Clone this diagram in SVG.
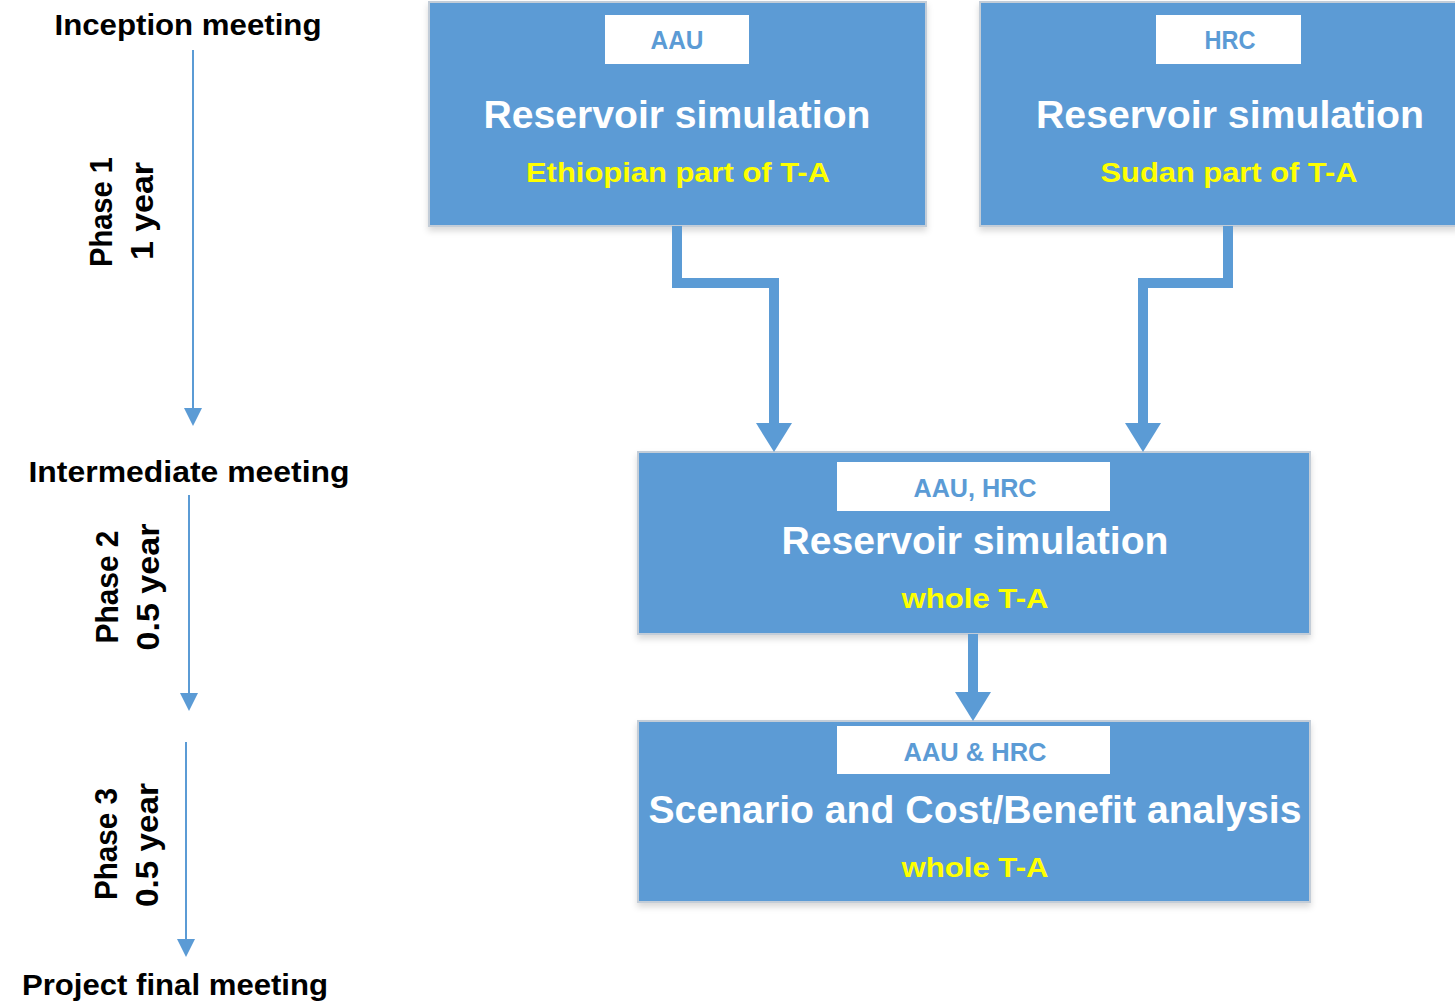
<svg xmlns="http://www.w3.org/2000/svg" width="1455" height="1002" viewBox="0 0 1455 1002">
<style>
text{font-family:"Liberation Sans",Arial,sans-serif;font-weight:bold;text-anchor:middle}
.box{fill:#5B9BD5;stroke:#C3CDD8;stroke-width:2}
.lab{fill:#FFFFFF}
.labt{fill:#5B9BD5;font-size:25px}
.main{fill:#FFFFFF;font-size:38px}
.sub{fill:#FFFF00;font-size:28px}
.tl{fill:#000000;font-size:29px}
.rot{fill:#000000;font-size:31px}
.thick{fill:none;stroke:#5B9BD5;stroke-width:10;marker-end:url(#bigHead)}
.thin{fill:none;stroke:#5B9BD5;stroke-width:2;marker-end:url(#smallHead)}
</style>
<defs>
<marker id="bigHead" markerUnits="userSpaceOnUse" markerWidth="30" markerHeight="36" viewBox="0 0 30 36" refX="0" refY="18" orient="auto"><path d="M0 0 L29 18 L0 36 Z" fill="#5B9BD5"/></marker>
<marker id="smallHead" markerUnits="userSpaceOnUse" markerWidth="19" markerHeight="18" viewBox="0 0 19 18" refX="0" refY="9" orient="auto"><path d="M0 0 L18 9 L0 18 Z" fill="#5B9BD5"/></marker>
<filter id="sh" x="-5%" y="-5%" width="110%" height="115%"><feDropShadow dx="0" dy="4" stdDeviation="3" flood-color="#000" flood-opacity="0.15"/></filter>
</defs>
<rect width="1455" height="1002" fill="#FFFFFF"/>

<g id="timeline">
<text class="tl" x="188" y="35" textLength="267" lengthAdjust="spacingAndGlyphs">Inception meeting</text>
<text class="tl" x="189" y="482" textLength="321" lengthAdjust="spacingAndGlyphs">Intermediate meeting</text>
<text class="tl" x="175" y="995" textLength="306" lengthAdjust="spacingAndGlyphs">Project final meeting</text>
<g transform="translate(112,212) rotate(-90)"><text class="rot" x="0" y="0" textLength="110" lengthAdjust="spacingAndGlyphs">Phase 1</text></g>
<g transform="translate(153,211) rotate(-90)"><text class="rot" x="0" y="0" textLength="98" lengthAdjust="spacingAndGlyphs">1  year</text></g>
<g transform="translate(118,587) rotate(-90)"><text class="rot" x="0" y="0" textLength="113" lengthAdjust="spacingAndGlyphs">Phase 2</text></g>
<g transform="translate(159,587) rotate(-90)"><text class="rot" x="0" y="0" textLength="127" lengthAdjust="spacingAndGlyphs">0.5  year</text></g>
<g transform="translate(117,844) rotate(-90)"><text class="rot" x="0" y="0" textLength="112" lengthAdjust="spacingAndGlyphs">Phase 3</text></g>
<g transform="translate(158,845) rotate(-90)"><text class="rot" x="0" y="0" textLength="124" lengthAdjust="spacingAndGlyphs">0.5  year</text></g>
</g>

<g id="box-aau">
<rect class="box" x="429" y="2" width="497" height="224" filter="url(#sh)"/>
<rect class="lab" x="605" y="15" width="144" height="49"/>
<text class="labt" x="677" y="49" textLength="53" lengthAdjust="spacingAndGlyphs">AAU</text>
<text class="main" x="677" y="128" textLength="387" lengthAdjust="spacingAndGlyphs">Reservoir simulation</text>
<text class="sub" x="678" y="182" textLength="304" lengthAdjust="spacingAndGlyphs">Ethiopian part of T-A</text>
</g>

<g id="box-hrc">
<rect class="box" x="980" y="2" width="478" height="224" filter="url(#sh)"/>
<rect class="lab" x="1156" y="15" width="145" height="49"/>
<text class="labt" x="1230" y="49" textLength="51" lengthAdjust="spacingAndGlyphs">HRC</text>
<text class="main" x="1230" y="128" textLength="388" lengthAdjust="spacingAndGlyphs">Reservoir simulation</text>
<text class="sub" x="1229" y="182" textLength="257" lengthAdjust="spacingAndGlyphs">Sudan part of T-A</text>
</g>

<g id="box-whole">
<rect class="box" x="638" y="452" width="672" height="182" filter="url(#sh)"/>
<rect class="lab" x="837" y="462" width="273" height="49"/>
<text class="labt" x="975" y="497" textLength="123" lengthAdjust="spacingAndGlyphs">AAU, HRC</text>
<text class="main" x="975" y="554" textLength="387" lengthAdjust="spacingAndGlyphs">Reservoir simulation</text>
<text class="sub" x="975" y="608" textLength="147" lengthAdjust="spacingAndGlyphs">whole T-A</text>
</g>

<g id="box-scenario">
<rect class="box" x="638" y="721" width="672" height="181" filter="url(#sh)"/>
<rect class="lab" x="837" y="726" width="273" height="48"/>
<text class="labt" x="975" y="761" textLength="143" lengthAdjust="spacingAndGlyphs">AAU &amp; HRC</text>
<text class="main" x="975" y="823" textLength="653" lengthAdjust="spacingAndGlyphs">Scenario and Cost/Benefit analysis</text>
<text class="sub" x="975" y="877" textLength="147" lengthAdjust="spacingAndGlyphs">whole T-A</text>
</g>

<g id="connectors">
<path class="thick" d="M677 226 V283 H774 V423"/>
<path class="thick" d="M1228 226 V283 H1143 V423"/>
<path class="thick" d="M973 634 V692"/>
<path class="thin" d="M193 50 V408"/>
<path class="thin" d="M189 495 V693"/>
<path class="thin" d="M186 742 V939"/>
</g>
</svg>
